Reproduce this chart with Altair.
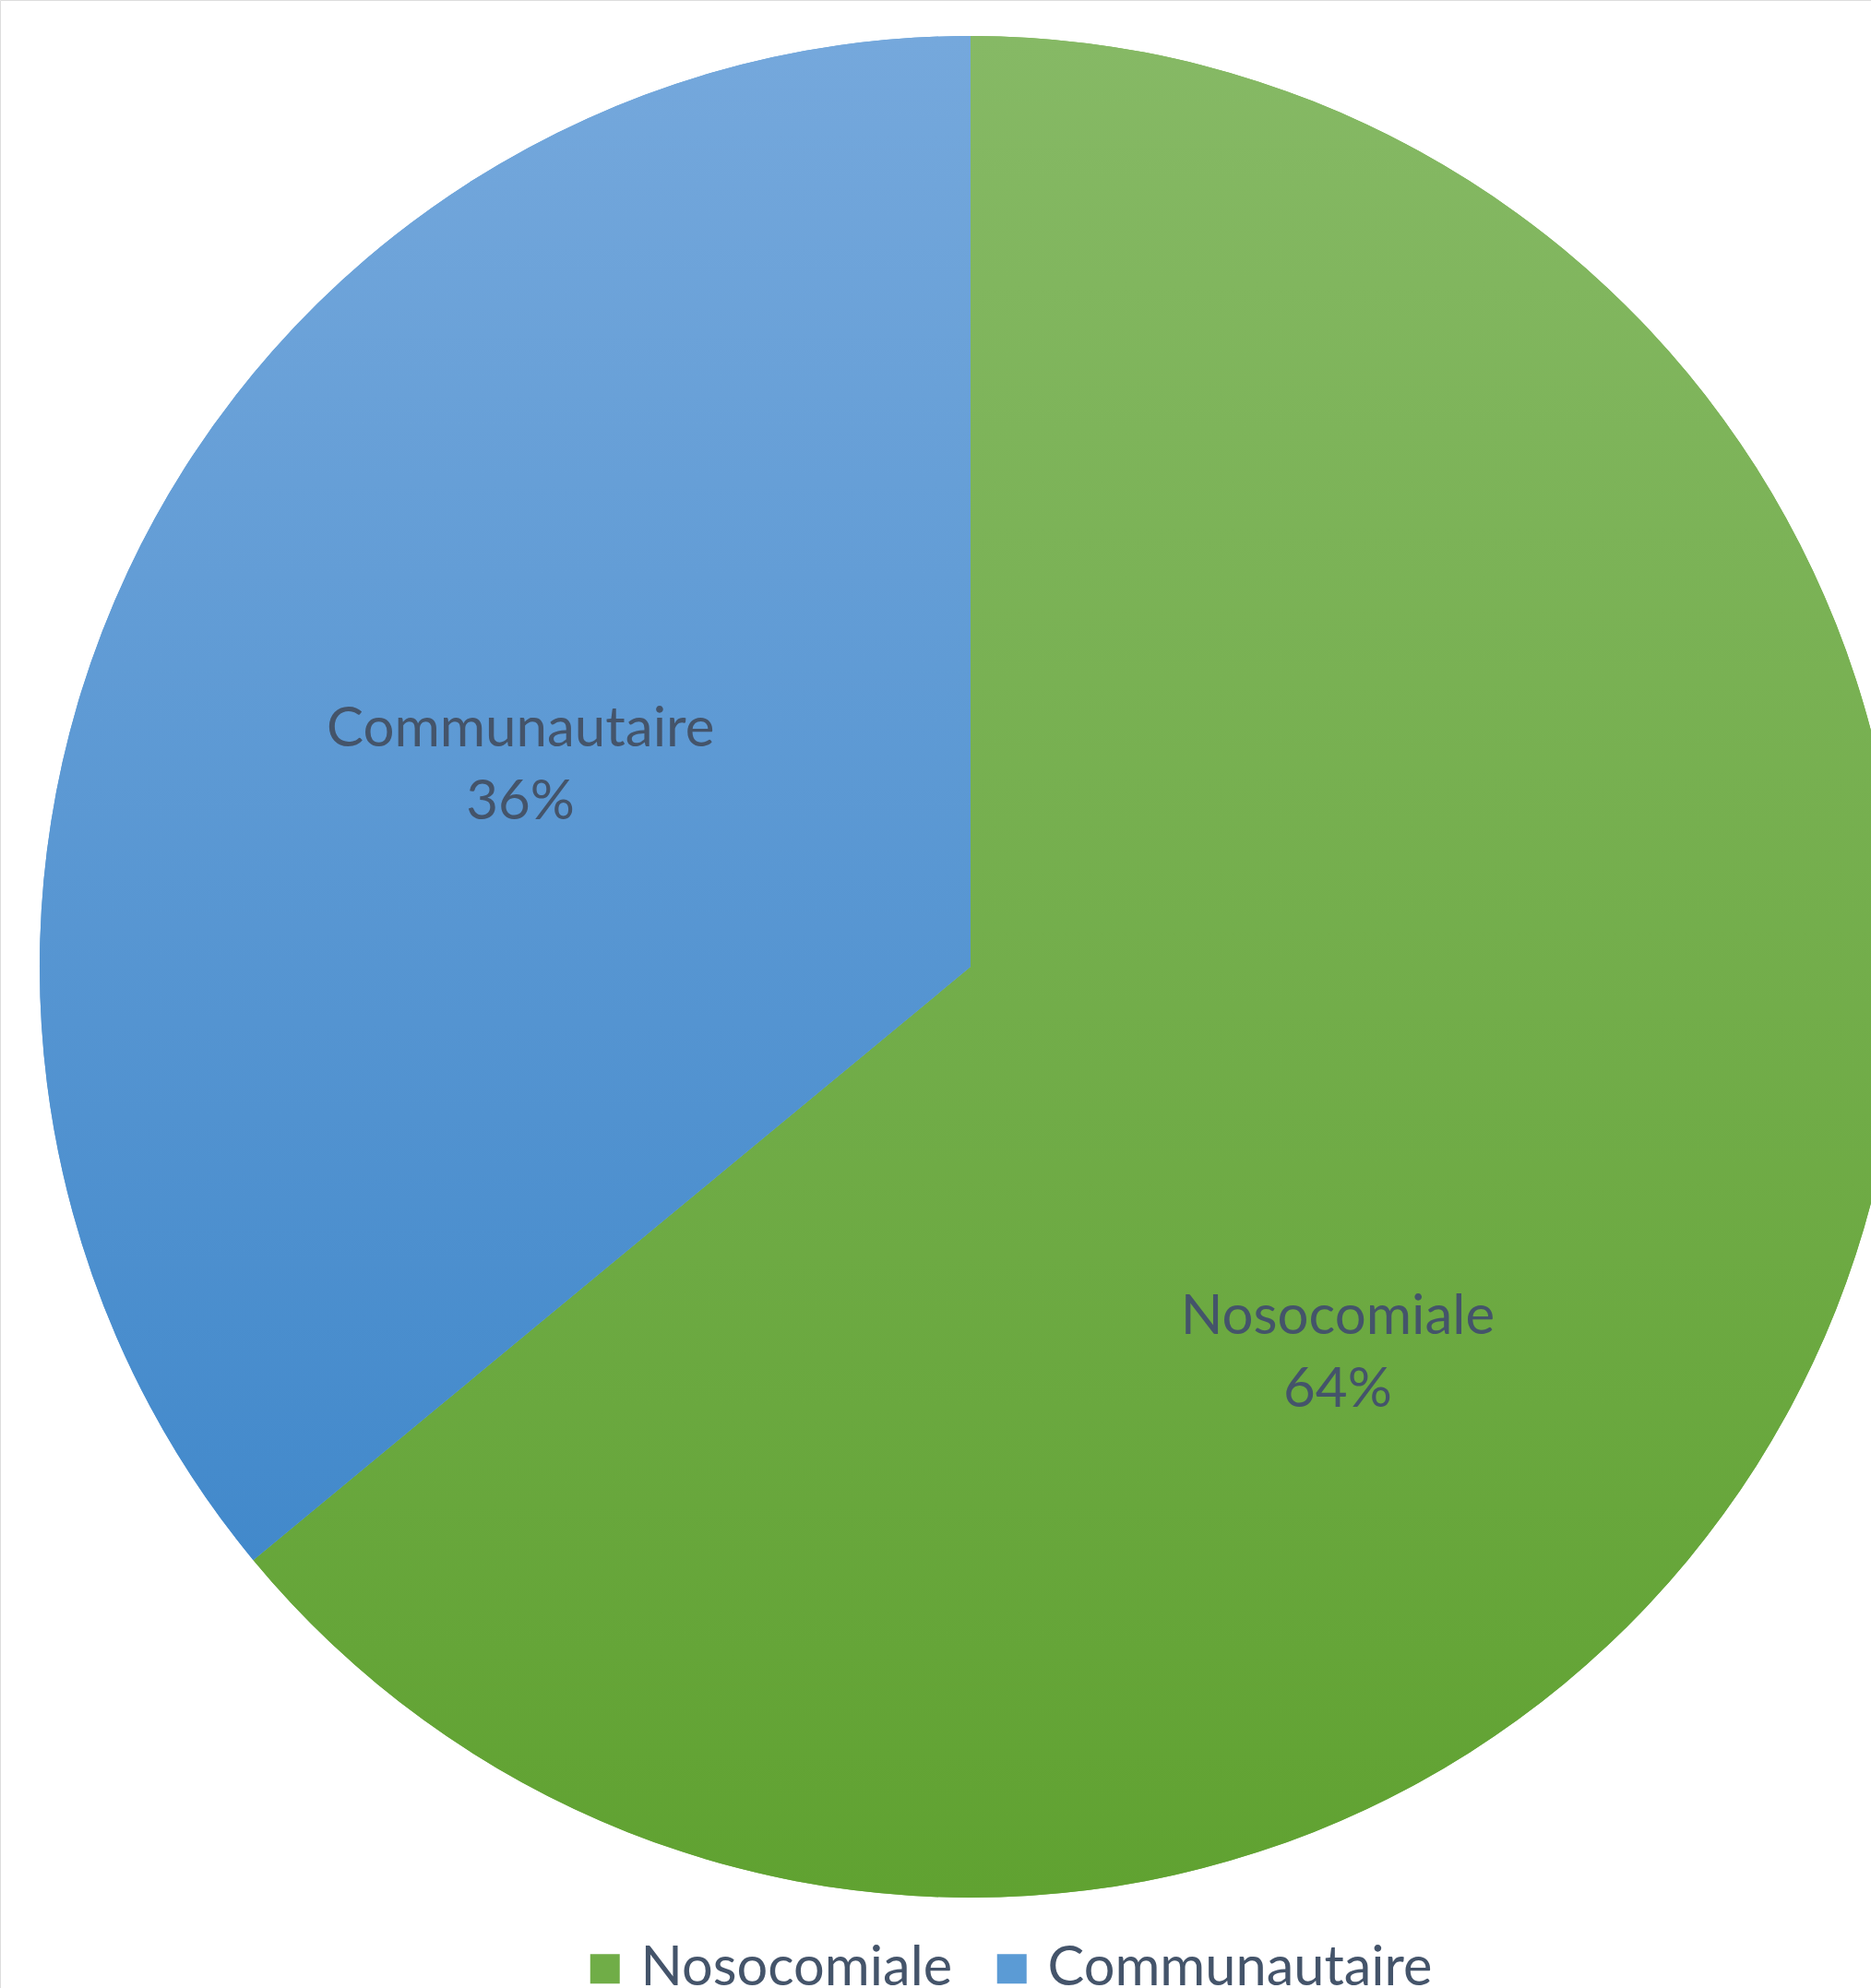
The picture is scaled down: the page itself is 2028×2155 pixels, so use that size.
import altair as alt
import pandas as pd

categories = ["Nosocomiale", "Communautaire"]
values = [64, 36]
pct_labels = ["64%", "36%"]

df = pd.DataFrame({"cat": categories, "val": values, "pct": pct_labels, "order": [0, 1]})

font = "Lato"
text_color = "#44546A"
green_solid = "#70AD47"
blue_solid = "#5B9BD5"

grad_green = alt.LinearGradient(
    gradient="linear", x1=0, y1=0, x2=0, y2=1,
    stops=[alt.GradientStop(color="#86B965", offset=0), alt.GradientStop(color="#60A231", offset=1)],
)
grad_blue = alt.LinearGradient(
    gradient="linear", x1=0, y1=0, x2=0, y2=1,
    stops=[alt.GradientStop(color="#75A8DC", offset=0), alt.GradientStop(color="#4289CB", offset=1)],
)

CX, CY, R = 1052, 1048, 1009

base = alt.Chart(df).encode(
    theta=alt.Theta("val:Q", stack=True),
    order=alt.Order("order:Q"),
    x=alt.value(CX),
    y=alt.value(CY),
)

legend_arcs = base.mark_arc(radius=R, stroke=None).encode(
    color=alt.Color(
        "cat:N",
        sort=categories,
        scale=alt.Scale(domain=categories, range=[green_solid, blue_solid]),
        legend=alt.Legend(
            title=None,
            orient="none",
            legendX=626,
            legendY=2104,
            direction="horizontal",
            symbolType="square",
            symbolSize=1024,
            symbolStrokeWidth=0,
            labelFont=font,
            labelFontSize=59.5,
            labelColor=text_color,
            labelLimit=600,
            labelOffset=9,
            columnPadding=34,
            padding=0,
        ),
    )
)

grad_arcs = base.mark_arc(radius=R).encode(
    fill=alt.condition(alt.datum.cat == "Nosocomiale", alt.value(grad_green), alt.value(grad_blue))
)

text_base = (
    alt.Chart(df)
    .transform_window(end="sum(val)", sort=[alt.SortField("order")], frame=[None, 0])
    .transform_calculate(mid="datum.end - datum.val / 2", label="datum.cat + '\\n' + datum.pct")
    .encode(
        theta=alt.Theta("mid:Q", stack=None),
        x=alt.value(CX),
        y=alt.value(CY),
        text="label:N",
    )
)

label_comm = text_base.transform_filter(alt.datum.cat == "Communautaire").mark_text(
    radius=537, font=font, fontSize=60, color=text_color, lineBreak="\n",
    lineHeight=79, align="center", baseline="middle", dx=-2, dy=-28,
)

label_noso = text_base.transform_filter(alt.datum.cat == "Nosocomiale").mark_text(
    radius=537, font=font, fontSize=60, color=text_color, lineBreak="\n",
    lineHeight=79, align="center", baseline="middle", dx=-88, dy=151,
)

chart = alt.layer(legend_arcs, grad_arcs, label_comm, label_noso).properties(
    width=2028, height=2155, padding=0, autosize=alt.AutoSizeParams(type="none"),
).configure_view(stroke=None).configure(background="white")

chart.save("out.html", embed_options={"renderer": "svg", "actions": False})
